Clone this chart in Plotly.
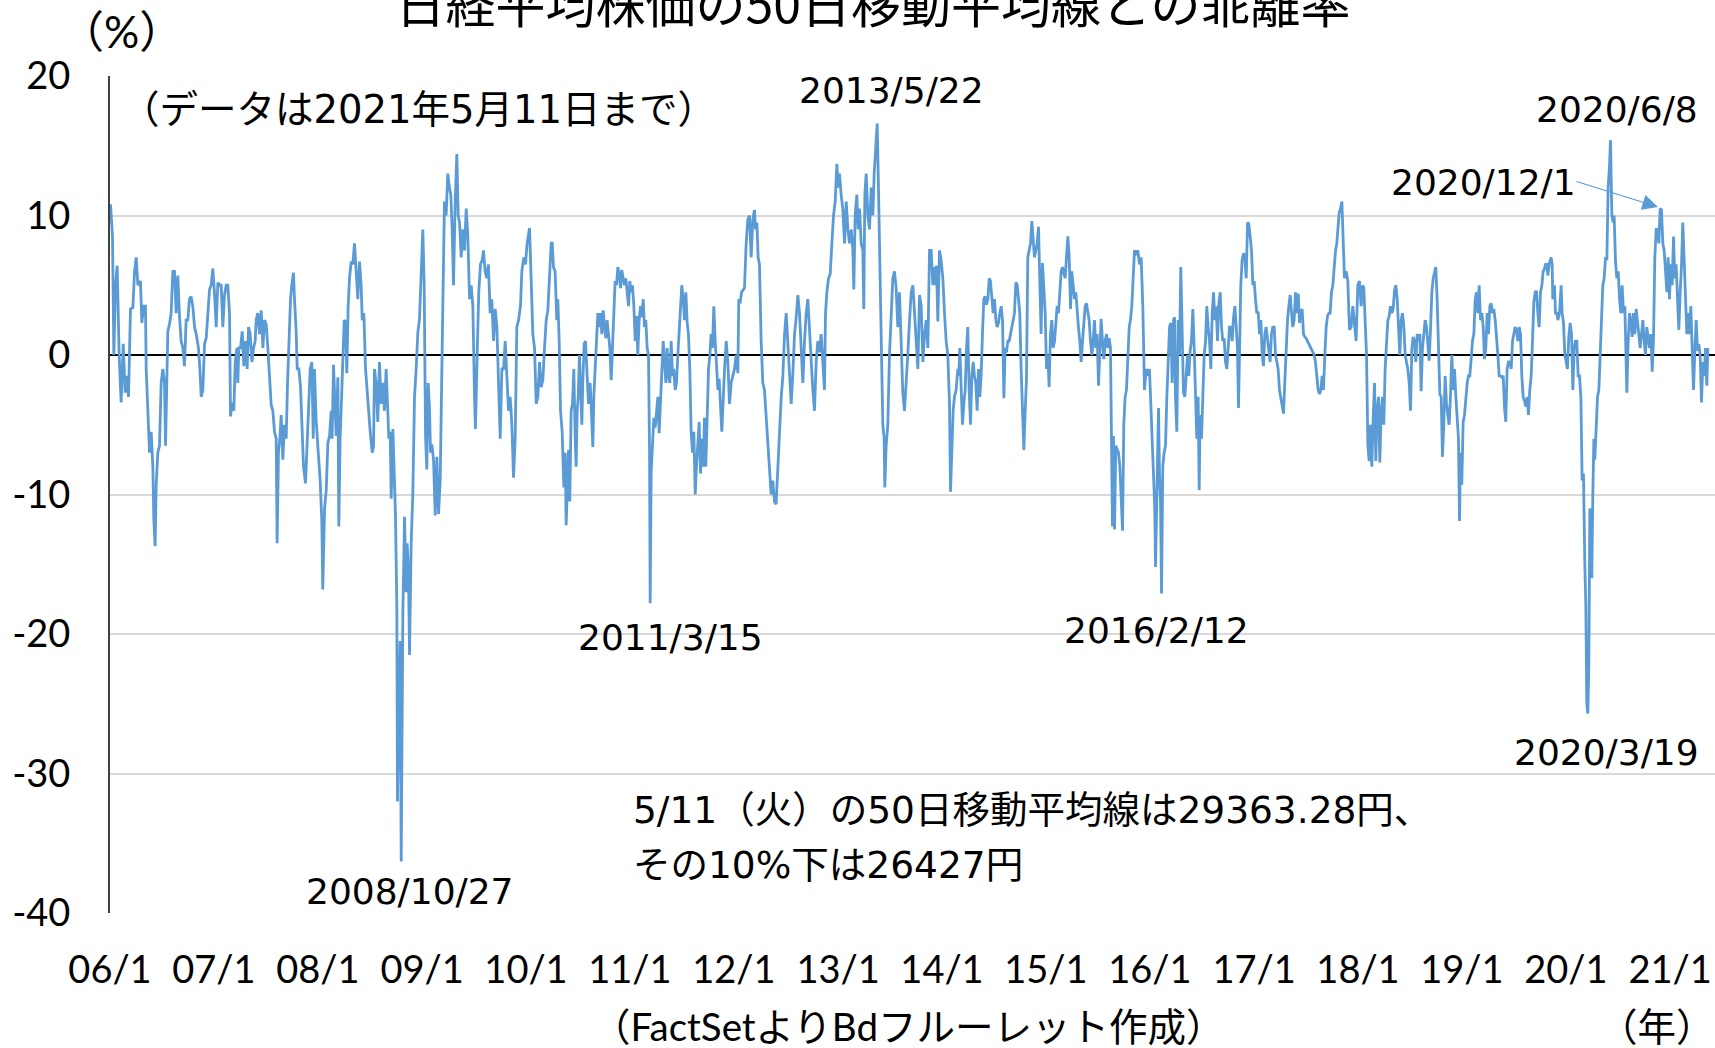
import pandas as pd
import plotly.graph_objects as go

# ---------------- data ----------------
BASE_DATE = "2006-01-01"
# (years since 2006-01-01, deviation from 50-day moving average in %)
readings = [
    (0.005, 10.8), (0.024, 8.5), (0.037, 0), (0.053, 5), (0.069, 6.4), (0.088, 0), (0.107, -3.4),
    (0.127, 0.8), (0.146, -2.7), (0.159, -1.5), (0.178, -3.0), (0.197, 3.3), (0.220, 3.4), (0.236, 6),
    (0.252, 7), (0.268, 5), (0.293, 5.3), (0.306, 2.3), (0.325, 3.5), (0.341, 3.5), (0.348, -1),
    (0.364, -4), (0.380, -7), (0.396, -5.5), (0.412, -8), (0.421, -11.7), (0.434, -13.7), (0.444, -9.3),
    (0.460, -7), (0.476, -6.5), (0.492, -2), (0.508, -1), (0.524, -2), (0.534, -6.5), (0.543, -2.3),
    (0.556, 1.7), (0.572, 2.2), (0.588, 3), (0.604, 6), (0.620, 6), (0.636, 3), (0.652, 5.7),
    (0.668, 2.8), (0.684, 1), (0.700, 0.5), (0.716, -0.8), (0.732, 2.5), (0.748, 2.5), (0.764, 4),
    (0.780, 4.2), (0.796, 3.5), (0.813, 2), (0.829, 1.5), (0.851, 0.5), (0.864, -1), (0.877, -3),
    (0.893, -2.5), (0.909, 0.8), (0.925, 1.2), (0.941, 3.3), (0.957, 4.7), (0.973, 5), (0.989, 6.2),
    (1.005, 4.4), (1.021, 2), (1.037, 5.2), (1.053, 5), (1.069, 5), (1.085, 2), (1.101, 4.3),
    (1.117, 5), (1.133, 5), (1.149, 3), (1.159, -4.4), (1.175, -3.4), (1.191, -4), (1.204, -0.5),
    (1.220, 0.5), (1.229, -2), (1.239, 0.5), (1.255, 0.5), (1.271, 1.7), (1.287, -0.8), (1.303, 1),
    (1.319, -1), (1.332, 2), (1.348, 1.5), (1.364, -0.5), (1.380, 0.5), (1.396, 1), (1.405, 2.5),
    (1.421, 3), (1.438, 1.5), (1.454, 3.2), (1.470, 0.5), (1.486, 2.5), (1.502, 2.2), (1.518, 0.5),
    (1.534, -2), (1.550, -3.6), (1.566, -4), (1.582, -5.5), (1.598, -6), (1.607, -13.5), (1.620, -7),
    (1.633, -6), (1.646, -4.3), (1.662, -7.5), (1.678, -5), (1.694, -6), (1.707, -2), (1.720, 1.5),
    (1.736, 4), (1.748, 5), (1.764, 5.9), (1.774, 4), (1.790, 1.7), (1.800, -1), (1.816, -1),
    (1.832, -2.3), (1.848, -5), (1.861, -8), (1.880, -9.2), (1.893, -6.5), (1.909, -4), (1.925, -1),
    (1.941, -0.5), (1.954, -6),
    (1.966, -1), (1.982, -4.6), (1.998, -6.5), (2.021, -9), (2.037, -12), (2.046, -16.8), (2.063, -11),
    (2.079, -9.7), (2.095, -6.3), (2.111, -5.8), (2.127, -4), (2.136, -6), (2.149, -0.7), (2.162, -4.2),
    (2.175, -5.8), (2.191, -1.6), (2.200, -12.3), (2.213, -6), (2.226, -3.4), (2.239, -1), (2.252, 2.5),
    (2.264, 2.4), (2.277, -1.3), (2.290, 3.5), (2.303, 5.5), (2.319, 6.7), (2.335, 6.5), (2.351, 8),
    (2.367, 6.3), (2.383, 4), (2.399, 6.7), (2.415, 5), (2.425, 2.5), (2.441, 3), (2.457, -1),
    (2.479, -3.5), (2.502, -5.5), (2.521, -7), (2.534, -6.6), (2.543, -1), (2.559, -2), (2.575, -4.8),
    (2.591, -0.5), (2.607, -3.5), (2.623, -2), (2.639, -4), (2.655, -1), (2.671, -4), (2.681, -6),
    (2.694, -5.5), (2.704, -10.3), (2.720, -5.3), (2.736, -10), (2.745, -11.5), (2.758, -18),
    (2.764, -32), (2.777, -25), (2.790, -20.5), (2.800, -36.3), (2.816, -18.5), (2.832, -11.6),
    (2.848, -17), (2.857, -13.5), (2.870, -15.5), (2.880, -21.5), (2.896, -13.5), (2.912, -9.9),
    (2.928, -3), (2.944, -1), (2.960, 1.6), (2.976, 2.6), (2.992, 6), (3.008, 9), (3.021, 5),
    (3.034, -5.8), (3.046, -8.2), (3.059, -2), (3.072, -3.8), (3.082, -7), (3.095, -6.4), (3.111, -7.5),
    (3.127, -11.5), (3.143, -7.3), (3.159, -11.4), (3.175, -9), (3.194, 0.5), (3.207, 6.5), (3.216, 11),
    (3.232, 10), (3.248, 13), (3.264, 12), (3.277, 11.5), (3.290, 9), (3.303, 5), (3.319, 11),
    (3.335, 14.4), (3.348, 10), (3.361, 9.5), (3.377, 7), (3.393, 9), (3.409, 7.5), (3.425, 10.5),
    (3.441, 8.5), (3.457, 4), (3.473, 5), (3.489, 3.5), (3.505, -3), (3.514, -5.3), (3.530, 0),
    (3.546, 4.5), (3.562, 6.5), (3.579, 6.8), (3.591, 7.5), (3.607, 6), (3.623, 5.5), (3.639, 6.5),
    (3.655, 3), (3.671, 4), (3.688, 1), (3.704, 3.3), (3.720, 2), (3.736, -2), (3.752, -6),
    (3.768, -1), (3.784, -1), (3.800, 1), (3.816, -1.8), (3.832, -4), (3.848, -3), (3.864, -5),
    (3.880, -8.8), (3.896, -6), (3.912, 2), (3.928, 2.5),
    (3.947, 3.5), (3.960, 6), (3.979, 7), (3.995, 6.5), (4.011, 8), (4.034, 9.1), (4.043, 7),
    (4.056, 4), (4.066, 1.5), (4.082, 0.5), (4.098, -3.5), (4.114, -3), (4.130, -0.5), (4.146, -2.3),
    (4.162, -1.8), (4.178, 0.5), (4.194, 2.5), (4.210, 3.2), (4.226, 5.5), (4.242, 8), (4.252, 8.1),
    (4.264, 6.3), (4.280, 6), (4.296, 2.5), (4.306, 4), (4.319, 1), (4.332, -4), (4.348, -5.5),
    (4.364, -9.5), (4.377, -7), (4.386, -12.2), (4.396, -9), (4.409, -6.8), (4.421, -10.5), (4.434, -4),
    (4.447, -3.5), (4.460, -1), (4.473, -6), (4.482, -8), (4.492, -4), (4.502, -3), (4.514, 0),
    (4.524, -2), (4.537, -5), (4.546, -2), (4.559, 0.8), (4.572, 1), (4.588, -2), (4.601, -3.5),
    (4.617, -2), (4.630, -4), (4.643, -6.6), (4.652, -3), (4.665, -1), (4.678, 0.5), (4.691, 3),
    (4.704, 2), (4.716, 3), (4.729, 1.5), (4.742, 3.2), (4.755, 2), (4.768, 1.2), (4.780, 2.5),
    (4.793, 1.5), (4.806, 0.5), (4.819, -1.8), (4.832, 1), (4.845, 4), (4.857, 5.3), (4.870, 5),
    (4.883, 6.3), (4.896, 5.8), (4.909, 4.8), (4.921, 6.1), (4.934, 5.5), (4.947, 5), (4.960, 5.5),
    (4.973, 4.5), (4.986, 3.5), (4.998, 5.3), (5.011, 4.5), (5.024, 5), (5.037, 3.5), (5.050, 1),
    (5.063, 2.8), (5.075, 0), (5.088, 2.5), (5.101, 3.5), (5.114, 2.7), (5.127, 4), (5.139, 2),
    (5.152, 2.5), (5.165, 0.5), (5.178, 0), (5.188, -7), (5.194, -17.8), (5.203, -8.5), (5.216, -6.5),
    (5.229, -4.5), (5.242, -5.2), (5.255, -4), (5.268, -3), (5.280, -5.6), (5.293, -3.3), (5.306, -1),
    (5.319, 1), (5.332, -0.5), (5.345, -2), (5.357, 0.5), (5.370, -1.5), (5.383, -2), (5.396, 1),
    (5.409, -1.5), (5.421, -1), (5.434, -2.5), (5.447, -2), (5.460, 0), (5.473, 2), (5.486, 3.5),
    (5.498, 5), (5.511, 4), (5.524, 2.5), (5.537, 4.5), (5.550, 2.3), (5.562, 1.5), (5.575, -1),
    (5.588, -5.5), (5.601, -7), (5.614, -5.5), (5.627, -10), (5.639, -8), (5.652, -6.5), (5.665, -4.8),
    (5.678, -8.5), (5.691, -6), (5.704, -8), (5.716, -4.5), (5.729, -8), (5.742, -4), (5.755, -1),
    (5.768, 0), (5.780, 1.5), (5.793, 0.5), (5.806, 3.5), (5.819, 1), (5.832, -0.8), (5.845, -2.5),
    (5.857, -1.7), (5.870, -3.5), (5.883, -5.5),
    (5.909, -1), (5.925, 1), (5.941, -0.5), (5.957, -3.5), (5.973, -2), (5.989, -1.5), (6.005, -1),
    (6.021, 0), (6.037, -1.3), (6.046, 4), (6.059, 3.7), (6.072, 4.5), (6.085, 4.6), (6.101, 4.8),
    (6.117, 8), (6.133, 9.7), (6.149, 10), (6.165, 7), (6.181, 9.7), (6.197, 10.4), (6.207, 9),
    (6.220, 9.5), (6.232, 7), (6.245, 6.5), (6.261, 1), (6.277, -2), (6.293, -2.5), (6.309, -4.3),
    (6.325, -5.8), (6.341, -7.5), (6.357, -10), (6.373, -9), (6.389, -10.5), (6.405, -10.7), (6.421, -8),
    (6.438, -6), (6.454, -3), (6.470, -1.5), (6.486, 1.5), (6.502, 3), (6.518, 0.5), (6.534, -1),
    (6.550, -3.5), (6.566, -1.3), (6.582, 1.5), (6.598, 2.7), (6.614, 4.3), (6.630, 3), (6.646, 0.5),
    (6.662, -2), (6.678, 1), (6.694, 3), (6.710, 4), (6.726, 1.5), (6.742, -0.5), (6.758, -2.5),
    (6.774, -4), (6.790, -0.5), (6.806, 1), (6.822, 0.2), (6.838, 1.5), (6.854, -1), (6.870, -2.5),
    (6.880, 3), (6.893, 4.5), (6.909, 5.5), (6.925, 5.8), (6.941, 8), (6.957, 10), (6.973, 11),
    (6.989, 13.7), (7.002, 12), (7.014, 13), (7.030, 11.5), (7.046, 10.5), (7.063, 8), (7.079, 11),
    (7.095, 9), (7.111, 8), (7.127, 9), (7.143, 7.5), (7.152, 4.7), (7.165, 10), (7.181, 11.5),
    (7.194, 9), (7.207, 10.5), (7.223, 8), (7.239, 7.5), (7.248, 3.3), (7.258, 11.5), (7.271, 13),
    (7.287, 10), (7.303, 9), (7.319, 12), (7.335, 10), (7.348, 13), (7.361, 15), (7.377, 16.6),
    (7.389, 12), (7.399, 8), (7.412, 5), (7.421, 0), (7.431, -5), (7.444, -6), (7.450, -9.5),
    (7.463, -6.5), (7.479, -5), (7.495, 0), (7.511, 3.5), (7.527, 5.5), (7.543, 6), (7.559, 4.8),
    (7.575, 2), (7.591, 4.5), (7.607, 1), (7.623, -2.7), (7.639, -4), (7.655, -1.5), (7.671, 0),
    (7.688, 2.5), (7.704, 4.5), (7.720, 5), (7.736, 3), (7.752, 1), (7.768, -1), (7.784, 4.3),
    (7.800, 3.5), (7.816, -0.5), (7.832, 1.5), (7.848, 2.5), (7.864, 0.5),
    (7.880, 7.5), (7.896, 7.5), (7.912, 5), (7.921, 6.3), (7.934, 5), (7.947, 6.4), (7.960, 2.4),
    (7.976, 7.5), (7.992, 6.8), (8.008, 5.5), (8.024, 3), (8.040, 1), (8.056, 0), (8.072, -3.5),
    (8.082, -9.8), (8.095, -7), (8.107, -4), (8.120, -3), (8.136, -2.5), (8.152, -1), (8.162, -1.5),
    (8.171, 0.5), (8.184, -3), (8.197, -5), (8.210, -3.5), (8.223, -2.5), (8.236, 0.5), (8.248, 2),
    (8.261, -2.5), (8.274, -5), (8.287, -1.5), (8.300, -0.5), (8.312, -1.5), (8.325, -2), (8.338, -4),
    (8.351, -1), (8.364, -3), (8.376, -1.5), (8.389, 1.5), (8.402, 4), (8.415, 4.2), (8.428, 3.6),
    (8.441, 4), (8.454, 5.5), (8.466, 5.3), (8.479, 4), (8.492, 3), (8.505, 4), (8.518, 2.5),
    (8.530, 2), (8.543, 2.3), (8.556, 3), (8.569, 3.5), (8.582, 2.5), (8.595, -3.1), (8.607, 0.5),
    (8.620, 0.2), (8.633, 1), (8.646, 1), (8.659, 1.5), (8.671, 2), (8.684, 2.5), (8.697, 3),
    (8.710, 5.2), (8.723, 5), (8.736, 4), (8.748, 3), (8.761, -1), (8.774, -4), (8.787, -6.8),
    (8.800, -4), (8.812, -1.8), (8.825, 7), (8.838, 7.5), (8.851, 8), (8.864, 9.6), (8.877, 8.3),
    (8.889, 7), (8.902, 7.5), (8.915, 8), (8.928, 9.2), (8.941, 5), (8.953, 1.5), (8.966, 6.6),
    (8.979, 5), (8.992, 3), (9.005, -1), (9.018, 0), (9.030, -2.3), (9.043, 1.5), (9.056, 2.5),
    (9.069, 0.5), (9.082, 1), (9.094, 2), (9.107, 3.5), (9.120, 3), (9.133, 5), (9.146, 6),
    (9.159, 6.3), (9.171, 6), (9.184, 5.5), (9.197, 7), (9.210, 8.5), (9.223, 7), (9.236, 3.3),
    (9.248, 6), (9.261, 5), (9.274, 4), (9.287, 4.5), (9.300, 3), (9.312, 2), (9.325, 1),
    (9.338, -0.5), (9.351, 1), (9.364, 2.5), (9.377, 3.5), (9.389, 3.7), (9.402, 3.2), (9.415, 2.5),
    (9.428, 1), (9.441, 0), (9.454, 1), (9.466, 2.5), (9.479, 0.5), (9.492, 1.5), (9.505, -2.2),
    (9.518, 0), (9.530, 2.6), (9.543, 1), (9.556, -0.3), (9.569, 1), (9.582, 1.5), (9.594, 0.5),
    (9.607, 1.2), (9.620, 0.5), (9.627, -5.3), (9.639, -12.3), (9.649, -5.8), (9.659, -12.5),
    (9.671, -6.5), (9.684, -6.8), (9.697, -7), (9.710, -8), (9.723, -10), (9.736, -12.6), (9.748, -5),
    (9.761, -3), (9.774, -2.5), (9.787, 0.5), (9.800, 2), (9.812, 2.5), (9.825, 3.5), (9.838, 5.5),
    (9.851, 7.5), (9.867, 7.3), (9.883, 7.5), (9.899, 6.5), (9.915, 7), (9.931, 3.5), (9.947, -2.5),
    (9.963, -1), (9.979, -1.5), (9.995, -1), (10.011, -4.5), (10.027, -7.5), (10.037, -10),
    (10.046, -11), (10.053, -15.2), (10.066, -10.5), (10.082, -3.8), (10.091, -8.5), (10.101, -10.5),
    (10.111, -17.1), (10.123, -8), (10.136, -7), (10.149, -6.5), (10.162, -3), (10.175, -1),
    (10.188, 2), (10.200, 2.3), (10.213, -2), (10.226, 2.5), (10.236, 2.7), (10.245, -3), (10.258, -5.5),
    (10.271, 2.5), (10.284, 0), (10.296, 6.3), (10.309, 1), (10.322, -2.7), (10.335, -3), (10.348, -1),
    (10.361, 0), (10.373, -1.5), (10.386, 0.3), (10.399, 1), (10.412, 3.3), (10.425, 0.5), (10.438, -3),
    (10.450, -6), (10.463, -3), (10.473, -9.7), (10.482, -4.3), (10.495, -6), (10.508, -3), (10.521, 0),
    (10.534, 1), (10.546, 3.5), (10.559, 2), (10.572, 1), (10.585, -1), (10.598, 3), (10.611, 4.5),
    (10.623, 2.5), (10.636, 3.5), (10.649, 1), (10.662, 3.7), (10.675, 4.5), (10.688, 2), (10.700, 1),
    (10.713, 1.2), (10.726, -0.5), (10.739, -1), (10.752, 1), (10.764, 2), (10.777, 2), (10.790, 1),
    (10.803, 2.7), (10.816, 3.5), (10.829, 2), (10.841, 0.5), (10.851, -3.8), (10.861, 1), (10.873, 5),
    (10.886, 6.8), (10.899, 7.3), (10.912, 7), (10.925, 5.5), (10.938, 9.5), (10.950, 9.4),
    (10.963, 8.5), (10.976, 7.5), (10.989, 5), (11.002, 5.3), (11.014, 4), (11.027, 3), (11.040, 3.1),
    (11.053, 1.5), (11.066, 2.5), (11.079, 0), (11.091, -0.8), (11.104, 1.5), (11.117, 2), (11.130, 1),
    (11.143, 0.5), (11.155, -0.5), (11.168, 1.5), (11.181, 2), (11.194, 2), (11.207, 0), (11.220, -0.5),
    (11.232, -1), (11.245, -2.5), (11.258, -3), (11.271, -3.5), (11.284, -4.2), (11.296, -2),
    (11.309, 0.5), (11.322, 2.5), (11.335, 3.5), (11.348, 4.3), (11.361, 3), (11.373, 2), (11.386, 2.5),
    (11.399, 4.5), (11.412, 3), (11.425, 4.4), (11.438, 2.3), (11.450, 3), (11.463, 3.3), (11.476, 1.5),
    (11.489, 1.3), (11.502, 1.2), (11.514, 1), (11.527, 0.8), (11.540, 0.5), (11.553, 0.3),
    (11.566, 0.2), (11.579, 0), (11.591, -0.5), (11.604, -1.5), (11.617, -2.5), (11.630, -2.8),
    (11.643, -2.5), (11.655, -1.5), (11.668, -2.5), (11.681, 0), (11.694, 2), (11.707, 2.8),
    (11.720, 3), (11.732, 3), (11.745, 4.5), (11.758, 5), (11.771, 6.5), (11.784, 7.5), (11.796, 8),
    (11.809, 9), (11.819, 10.2), (11.832, 10.5), (11.845, 11), (11.854, 9), (11.870, 5.5), (11.886, 6),
    (11.902, 5.3), (11.918, 1.8), (11.934, 2), (11.950, 3.5), (11.966, 2.3), (11.982, 1), (11.998, 5),
    (12.014, 5.3), (12.030, 3.5), (12.046, 5), (12.056, 4.8), (12.069, 2), (12.082, 0), (12.095, -6.5),
    (12.107, -7.6), (12.120, -5), (12.133, -8), (12.146, -4.5), (12.159, -2), (12.171, -7.6),
    (12.184, -4), (12.197, -3), (12.210, -7.7), (12.223, -4), (12.236, -3), (12.248, -5), (12.261, -1),
    (12.274, 0.8), (12.287, 2.5), (12.300, 2.8), (12.312, 3.5), (12.325, 3), (12.338, 3.3),
    (12.351, 4.6), (12.364, 5), (12.377, 4), (12.389, 2), (12.402, 0), (12.415, 2.5), (12.428, 3),
    (12.441, 2), (12.454, 0), (12.466, -0.5), (12.479, -1), (12.492, -2), (12.505, -4), (12.518, 0.5),
    (12.530, 1.3), (12.543, 1), (12.556, -0.5), (12.569, 1.5), (12.582, 1), (12.595, 1.5),
    (12.607, -2.6), (12.620, 0.5), (12.633, 1.5), (12.646, 2.5), (12.659, 2), (12.671, 0.5),
    (12.684, -0.4), (12.697, 1.8), (12.710, 4.5), (12.723, 5.5), (12.736, 6), (12.748, 6.3), (12.761, 4),
    (12.774, 0.5), (12.787, -2.8), (12.800, -3), (12.812, -7.3), (12.825, -5), (12.838, -1.5),
    (12.851, -3.5), (12.864, -4.5), (12.876, -5), (12.889, -3), (12.902, 0), (12.915, -2.5),
    (12.928, -1), (12.941, -3), (12.954, -5), (12.966, -6), (12.976, -11.9), (12.986, -7),
    (12.998, -9.3), (13.011, -4.8), (13.024, -4.3), (13.037, -2.8), (13.050, -2), (13.062, -1.5),
    (13.075, -1.5), (13.088, -0.3), (13.101, 1), (13.114, 1.5), (13.127, 4), (13.139, 4.5), (13.152, 3),
    (13.165, 5), (13.178, 2.5), (13.191, 3), (13.204, 2), (13.216, -0.3), (13.229, 0.5), (13.242, 3),
    (13.255, 1.5), (13.268, 3.5), (13.280, 3.7), (13.293, 3), (13.306, 3.3), (13.319, 2.5),
    (13.332, 1.5), (13.345, 0), (13.357, -1.5), (13.370, -1.5), (13.383, -1.6), (13.396, -1.5),
    (13.409, -3.8), (13.421, -4.8), (13.434, -1), (13.447, -0.5), (13.460, -0.5), (13.473, -1),
    (13.486, 1), (13.498, 1.5), (13.511, 2), (13.524, 1.8), (13.537, 1), (13.550, 2), (13.563, 1.5),
    (13.575, -1.5), (13.588, -3), (13.601, -3.3), (13.614, -3.7), (13.627, -3), (13.639, -4.3),
    (13.652, -2.5), (13.665, -1.5), (13.678, 1), (13.691, 3.8), (13.704, 4.5), (13.716, 4.6),
    (13.729, 3), (13.742, 2), (13.755, 4.5), (13.768, 5), (13.780, 6), (13.790, 6.1), (13.803, 6.5),
    (13.816, 6.5), (13.825, 5.7), (13.841, 6.6), (13.857, 7), (13.867, 6.5), (13.873, 4), (13.889, 5),
    (13.899, 3), (13.912, 3), (13.922, 2.5), (13.938, 3), (13.953, 5), (13.963, 3), (13.976, 2.3),
    (13.989, 0), (14.002, -0.5), (14.014, -1), (14.027, 1.3), (14.040, 2.3), (14.053, 1.5),
    (14.066, -2.5), (14.079, 0.5), (14.091, 1), (14.104, 1), (14.117, -1.5), (14.130, -1.5),
    (14.143, -3), (14.155, -9), (14.168, -8.5), (14.181, -15), (14.191, -18), (14.200, -25),
    (14.210, -25.7), (14.220, -22), (14.229, -11), (14.239, -12), (14.248, -16), (14.258, -10),
    (14.268, -6), (14.277, -7.5), (14.290, -5), (14.303, -3), (14.316, -2.5), (14.328, 0), (14.341, 3),
    (14.354, 5), (14.367, 5.5), (14.380, 7), (14.393, 6.8), (14.405, 12), (14.418, 13.5), (14.428, 15.4),
    (14.441, 10), (14.454, 9.5), (14.463, 10), (14.476, 6.7), (14.489, 5.5), (14.502, 6), (14.515, 4),
    (14.527, 3), (14.540, 5), (14.553, 3), (14.566, 3.5), (14.579, 0), (14.585, -2.7), (14.598, 1),
    (14.611, 3), (14.623, 2.5), (14.636, 1.3), (14.649, 3), (14.662, 1.5), (14.675, 3.3), (14.688, 2),
    (14.700, 1.5), (14.713, 0.5), (14.726, 1.5), (14.739, 2.5), (14.752, 1), (14.764, 0), (14.777, 2),
    (14.790, 1), (14.803, 0.5), (14.816, 1.5), (14.829, -1.2), (14.841, 1), (14.854, 7), (14.867, 9),
    (14.880, 9), (14.893, 8), (14.905, 10.5), (14.918, 10.4), (14.931, 8), (14.944, 7.5), (14.957, 6),
    (14.970, 4.5), (14.982, 7), (14.995, 4), (15.008, 6.5), (15.021, 5), (15.034, 8.5), (15.046, 5.5),
    (15.059, 6.5), (15.072, 4), (15.085, 1.8), (15.098, 4.5), (15.111, 6.5), (15.123, 9.5),
    (15.136, 6.5), (15.149, 4.5), (15.162, 1.5), (15.175, 3), (15.188, 1.5), (15.200, 3.5), (15.213, 0),
    (15.226, -2.5), (15.239, 0.3), (15.252, 2.5), (15.264, 0.3), (15.277, 0.8), (15.290, 0),
    (15.303, -3.4), (15.316, -0.5), (15.329, -1.5), (15.341, 0.5), (15.354, -2.2), (15.364, 0.5),
]

tick_years = list(range(2006, 2022))
tick_labels = ["06/1", "07/1", "08/1", "09/1", "10/1", "11/1", "12/1", "13/1", "14/1",
               "15/1", "16/1", "17/1", "18/1", "19/1", "20/1", "21/1"]
y_ticks = [20, 10, 0, -10, -20, -30, -40]

event_labels = ["2013/5/22", "2020/6/8", "2020/12/1", "2011/3/15", "2016/2/12",
                "2020/3/19", "2008/10/27"]

# ---------------- build ----------------
base = pd.Timestamp(BASE_DATE)
dates = [base + pd.Timedelta(days=t * 365.25) for t, _ in readings]
values = [v for _, v in readings]

W, H = 1715, 1048
L, R, T, B = 110, 0, 76, 135
PW, PH = W - L - R, H - T - B

def px(xp):
    return (xp - L) / PW

def py(yp):
    return (H - B - yp) / PH

BLUE = "#5B9BD5"
TICKFONT = "Lato, Liberation Sans, Noto Sans CJK JP, sans-serif"
JPFONT = "DejaVu Sans, Noto Sans CJK JP, sans-serif"

fig = go.Figure()
fig.add_trace(go.Scatter(x=dates, y=values, mode="lines",
                         line=dict(color=BLUE, width=2.8), hoverinfo="skip",
                         showlegend=False))

fig.update_layout(
    width=W, height=H,
    margin=dict(l=L, r=R, t=T, b=B),
    paper_bgcolor="white", plot_bgcolor="white",
    title=dict(text="日経平均株価の50日移動平均線との乖離率",
               font=dict(family="Noto Sans CJK JP", size=50, color="black"),
               x=px(873), xanchor="center", y=1 - 5 / H, yanchor="middle",
               xref="paper", yref="container"),
    xaxis=dict(type="date",
               range=[base, base + pd.Timedelta(days=(W - L) / 104 * 365.25)],
               tickvals=[pd.Timestamp(f"{y}-01-01") for y in tick_years],
               ticktext=tick_labels, showgrid=False, zeroline=False,
               showline=False, ticks="",
               tickfont=dict(family=TICKFONT, size=38, color="black"),
               ticklabelstandoff=31),
    yaxis=dict(range=[-40, 20], tickvals=y_ticks, ticktext=[str(v) for v in y_ticks],
               showgrid=True, gridcolor="#D9D9D9", gridwidth=1.5,
               zeroline=True, zerolinecolor="black", zerolinewidth=1.5,
               showline=True, linecolor="#404040", linewidth=2, ticks="",
               tickfont=dict(family=TICKFONT, size=38, color="black"),
               ticklabelstandoff=30),
)

annots = [
    ("（%）", 121, 31, "center", TICKFONT, 44),
    ("（データは2021年5月11日まで）", 418, 109, "center", JPFONT, 38.5),
    (event_labels[0], 891, 90, "center", JPFONT, 36),
    (event_labels[1], 1617, 110, "center", JPFONT, 36),
    (event_labels[2], 1483, 182, "center", JPFONT, 36),
    (event_labels[3], 670, 637, "center", JPFONT, 36),
    (event_labels[4], 1156, 630, "center", JPFONT, 36),
    (event_labels[5], 1606, 752, "center", JPFONT, 36),
    (event_labels[6], 410, 891, "center", JPFONT, 36),
    ("5/11（火）の50日移動平均線は29363.28円、", 631, 810, "left", JPFONT, 37.5),
    ("その10%下は26427円", 631, 865, "left", JPFONT, 37.5),
    ("（FactSetよりBdフルーレット作成）", 908, 1026, "center", TICKFONT, 38.5),
    ("（年）", 1657, 1026, "center", TICKFONT, 38.5),
]
for text, xp_, yp_, anc, fam, size in annots:
    fig.add_annotation(text=text, x=px(xp_), y=py(yp_), xref="paper", yref="paper",
                       xanchor=anc, yanchor="middle", showarrow=False,
                       font=dict(family=fam, size=size, color="black"))

# arrow from the 2020/12/1 label to its peak
fig.add_annotation(x=px(1658), y=py(207), xref="paper", yref="paper",
                   ax=1575 - 1658, ay=181 - 207, axref="pixel", ayref="pixel",
                   text="", showarrow=True, arrowhead=2, arrowsize=2.6,
                   arrowwidth=1.2, arrowcolor=BLUE)

fig.write_html("out.html",
               config={"displayModeBar": False},
               post_script="document.body.style.margin='0';"
                           "document.body.style.overflow='hidden';")
